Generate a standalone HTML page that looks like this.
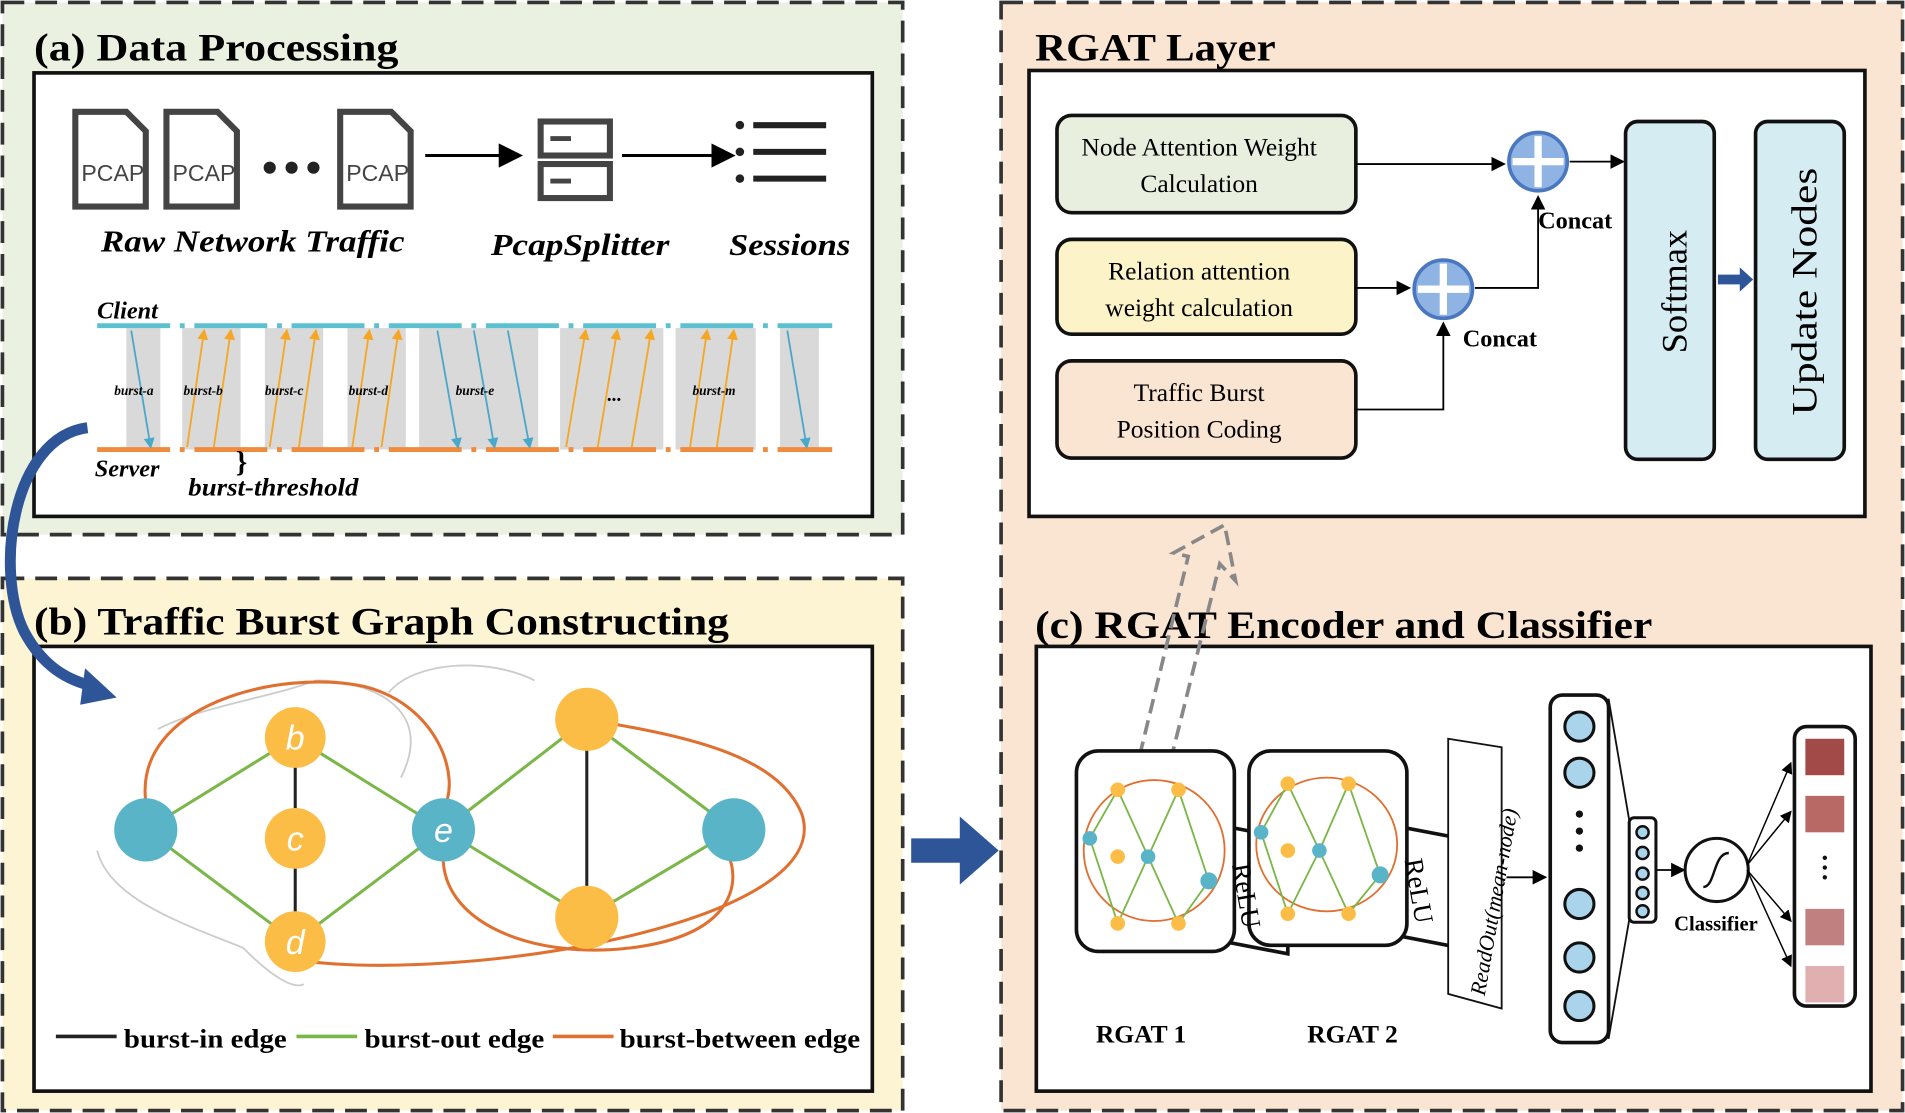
<!DOCTYPE html>
<html><head><meta charset="utf-8"><style>html,body{margin:0;padding:0;background:#fff}svg{display:block}</style></head><body>
<svg width="1905" height="1113" viewBox="0 0 1568 916" preserveAspectRatio="none" xmlns="http://www.w3.org/2000/svg" font-family="Liberation Serif, serif">
<defs>
<marker id="ah" markerWidth="8" markerHeight="8" refX="7" refY="4" orient="auto"><path d="M0,0 L8,4 L0,8z" fill="#000"/></marker>
<marker id="ab" markerWidth="6" markerHeight="6" refX="5" refY="3" orient="auto"><path d="M0,0 L6,3 L0,6z" fill="#4aa8c8"/></marker>
<marker id="ao" markerWidth="6" markerHeight="6" refX="5" refY="3" orient="auto"><path d="M0,0 L6,3 L0,6z" fill="#f5a623"/></marker>
</defs>
<rect x="2" y="2" width="741" height="438" fill="#ebf1e0" stroke="#333" stroke-width="3" stroke-dasharray="18,9"/>
<rect x="2" y="476" width="741" height="438" fill="#fdf4d3" stroke="#333" stroke-width="3" stroke-dasharray="18,9"/>
<rect x="824" y="2" width="742" height="912" fill="#fae5d3" stroke="#333" stroke-width="3" stroke-dasharray="18,9"/>
<text x="28" y="50" font-size="32" font-weight="bold" textLength="300" lengthAdjust="spacingAndGlyphs">(a) Data Processing</text>
<text x="28" y="522" font-size="32" font-weight="bold" textLength="572" lengthAdjust="spacingAndGlyphs">(b) Traffic Burst Graph Constructing</text>
<text x="852" y="50" font-size="32" font-weight="bold" textLength="198" lengthAdjust="spacingAndGlyphs">RGAT Layer</text>
<text x="852" y="525" font-size="32" font-weight="bold" textLength="508" lengthAdjust="spacingAndGlyphs">(c) RGAT Encoder and Classifier</text>
<rect x="28" y="60" width="690" height="365" fill="#fff" stroke="#111" stroke-width="3"/>
<rect x="28" y="532" width="690" height="366" fill="#fff" stroke="#111" stroke-width="3"/>
<rect x="847" y="58" width="688" height="367" fill="#fff" stroke="#111" stroke-width="3"/>
<rect x="853" y="532" width="687" height="366" fill="#fff" stroke="#111" stroke-width="3"/>
<g font-family="Liberation Sans, sans-serif" font-size="19" fill="#444">
<g transform="translate(62,92)"><path d="M0,0 H42 L58,16 V78 H0z" fill="#fff" stroke="#444" stroke-width="5"/><text x="5" y="57">PCAP</text></g>
<g transform="translate(137,92)"><path d="M0,0 H42 L58,16 V78 H0z" fill="#fff" stroke="#444" stroke-width="5"/><text x="5" y="57">PCAP</text></g>
<g transform="translate(280,92)"><path d="M0,0 H42 L58,16 V78 H0z" fill="#fff" stroke="#444" stroke-width="5"/><text x="5" y="57">PCAP</text></g>
</g>
<circle cx="222" cy="138" r="5" fill="#222"/><circle cx="240" cy="138" r="5" fill="#222"/><circle cx="258" cy="138" r="5" fill="#222"/>
<line x1="350" y1="128" x2="428" y2="128" stroke="#000" stroke-width="2.5" marker-end="url(#ah)"/>
<rect x="445" y="100" width="57" height="28" fill="#fff" stroke="#444" stroke-width="5"/><rect x="445" y="135" width="57" height="28" fill="#fff" stroke="#444" stroke-width="5"/>
<line x1="453" y1="114" x2="470" y2="114" stroke="#444" stroke-width="4"/><line x1="453" y1="149" x2="470" y2="149" stroke="#444" stroke-width="4"/>
<line x1="512" y1="128" x2="603" y2="128" stroke="#000" stroke-width="2.5" marker-end="url(#ah)"/>
<g fill="#222"><circle cx="609" cy="103" r="3.5"/><circle cx="609" cy="125" r="3.5"/><circle cx="609" cy="147" r="3.5"/></g>
<g stroke="#222" stroke-width="5"><line x1="620" y1="103" x2="680" y2="103"/><line x1="620" y1="125" x2="680" y2="125"/><line x1="620" y1="147" x2="680" y2="147"/></g>
<g font-size="25" font-style="italic" font-weight="bold"><text x="83" y="207" textLength="250" lengthAdjust="spacingAndGlyphs">Raw Network Traffic</text><text x="404" y="210" textLength="147" lengthAdjust="spacingAndGlyphs">PcapSplitter</text><text x="600" y="210" textLength="100" lengthAdjust="spacingAndGlyphs">Sessions</text></g>
<g fill="#d9d9d9">
<rect x="104" y="270" width="28" height="100"/><rect x="150" y="270" width="48" height="100"/><rect x="218" y="270" width="48" height="100"/><rect x="286" y="270" width="48" height="100"/><rect x="345" y="270" width="98" height="100"/><rect x="461" y="270" width="85" height="100"/><rect x="556" y="270" width="66" height="100"/><rect x="642" y="270" width="32" height="100"/>
</g>
<line x1="80" y1="268" x2="685" y2="268" stroke="#5bc0d0" stroke-width="4" stroke-dasharray="60,8,4,8"/>
<line x1="80" y1="370" x2="685" y2="370" stroke="#f08a3c" stroke-width="4" stroke-dasharray="60,8,4,8"/>
<g stroke="#4aa8c8" stroke-width="1.5" marker-end="url(#ab)"><line x1="108" y1="272" x2="124" y2="368"/><line x1="360" y1="272" x2="377" y2="368"/><line x1="390" y1="272" x2="407" y2="368"/><line x1="418" y1="272" x2="436" y2="368"/><line x1="648" y1="272" x2="664" y2="368"/></g>
<g stroke="#f5a623" stroke-width="1.5" marker-end="url(#ao)"><line x1="154" y1="368" x2="168" y2="272"/><line x1="176" y1="368" x2="190" y2="272"/><line x1="222" y1="368" x2="236" y2="272"/><line x1="246" y1="368" x2="260" y2="272"/><line x1="290" y1="368" x2="304" y2="272"/><line x1="314" y1="368" x2="328" y2="272"/><line x1="466" y1="368" x2="482" y2="272"/><line x1="492" y1="368" x2="508" y2="272"/><line x1="520" y1="368" x2="536" y2="272"/><line x1="568" y1="368" x2="582" y2="272"/><line x1="590" y1="368" x2="604" y2="272"/></g>
<g font-size="11" font-style="italic" font-weight="bold"><text x="94" y="325">burst-a</text><text x="151" y="325">burst-b</text><text x="218" y="325">burst-c</text><text x="287" y="325">burst-d</text><text x="375" y="325">burst-e</text><text x="500" y="330" font-size="16">...</text><text x="570" y="325">burst-m</text></g>
<text x="80" y="262" font-size="20" font-style="italic" font-weight="bold">Client</text>
<text x="78" y="392" font-size="20" font-style="italic" font-weight="bold">Server</text>
<text x="194" y="388" font-size="24" font-weight="bold">}</text>
<text x="155" y="408" font-size="21" font-style="italic" font-weight="bold" textLength="140" lengthAdjust="spacingAndGlyphs">burst-threshold</text>
<path d="M72,352 C10,360 -5,470 20,520 C35,548 55,560 78,565" fill="none" stroke="#2e5597" stroke-width="9"/>
<path d="M70,550 L96,574 L66,580z" fill="#2e5597"/>
<path d="M80,700 C90,740 150,760 200,780 C220,800 240,815 250,810" fill="none" stroke="#ccc" stroke-width="1.5"/>
<path d="M130,600 C170,580 220,575 260,560 C300,560 360,580 330,640" fill="none" stroke="#ccc" stroke-width="1.5"/>
<path d="M320,570 C340,545 400,540 440,560" fill="none" stroke="#ccc" stroke-width="1.5"/>
<g stroke="#e07030" stroke-width="2.5" fill="none">
<path d="M120,660 C110,580 230,550 300,565 C360,580 380,640 365,665"/>
<path d="M483,592 C560,605 640,620 660,670 C690,760 380,810 243,790"/>
<path d="M365,700 C360,760 440,790 520,780 C600,770 610,730 600,705"/>
</g>
<g stroke="#7ab648" stroke-width="2.5"><line x1="120" y1="683" x2="243" y2="607"/><line x1="120" y1="683" x2="243" y2="775"/><line x1="243" y1="607" x2="365" y2="683"/><line x1="243" y1="775" x2="365" y2="683"/><line x1="365" y1="683" x2="483" y2="592"/><line x1="365" y1="683" x2="483" y2="755"/><line x1="483" y1="592" x2="604" y2="683"/><line x1="483" y1="755" x2="604" y2="683"/></g>
<g stroke="#222" stroke-width="2.5"><line x1="243" y1="607" x2="243" y2="775"/><line x1="483" y1="592" x2="483" y2="755"/></g>
<g fill="#5ab4c8"><circle cx="120" cy="683" r="26"/><circle cx="365" cy="683" r="26"/><circle cx="604" cy="683" r="26"/></g>
<g fill="#fbbd45"><circle cx="243" cy="607" r="25"/><circle cx="243" cy="690" r="25"/><circle cx="243" cy="775" r="25"/><circle cx="483" cy="592" r="26"/><circle cx="483" cy="755" r="26"/></g>
<g font-family="Liberation Sans, sans-serif" font-size="28" font-style="italic" fill="#fff" text-anchor="middle"><text x="243" y="617">b</text><text x="243" y="700">c</text><text x="243" y="785">d</text><text x="365" y="693">e</text></g>
<line x1="46" y1="853" x2="96" y2="853" stroke="#222" stroke-width="3"/>
<line x1="244" y1="853" x2="294" y2="853" stroke="#7ab648" stroke-width="3"/>
<line x1="455" y1="853" x2="505" y2="853" stroke="#e07030" stroke-width="3"/>
<g font-size="22" font-weight="bold"><text x="102" y="862" textLength="134" lengthAdjust="spacingAndGlyphs">burst-in edge</text><text x="300" y="862" textLength="148" lengthAdjust="spacingAndGlyphs">burst-out edge</text><text x="510" y="862" textLength="198" lengthAdjust="spacingAndGlyphs">burst-between edge</text></g>
<path d="M750,690 H790 V672 L822,700 L790,728 V710 H750z" fill="#2e5597"/>
<g font-size="21" text-anchor="middle">
<rect x="870" y="95" width="246" height="80" rx="12" fill="#e8efdf" stroke="#111" stroke-width="3"/><text x="987" y="128">Node Attention Weight</text><text x="987" y="158">Calculation</text>
<rect x="870" y="197" width="246" height="78" rx="12" fill="#fdf3c8" stroke="#111" stroke-width="3"/><text x="987" y="230">Relation attention</text><text x="987" y="260">weight calculation</text>
<rect x="870" y="297" width="246" height="80" rx="12" fill="#fae5d3" stroke="#111" stroke-width="3"/><text x="987" y="330">Traffic Burst</text><text x="987" y="360">Position Coding</text>
</g>
<g stroke="#000" stroke-width="1.5" fill="none">
<line x1="1116" y1="135" x2="1238" y2="135" marker-end="url(#ah)"/>
<line x1="1116" y1="237" x2="1160" y2="237" marker-end="url(#ah)"/>
<polyline points="1116,337 1188,337 1188,266" marker-end="url(#ah)"/>
<polyline points="1214,237 1266,237 1266,162" marker-end="url(#ah)"/>
<line x1="1292" y1="133" x2="1336" y2="133" marker-end="url(#ah)"/>
</g>
<g><circle cx="1266" cy="133" r="24" fill="#8fb3e3" stroke="#4a78c0" stroke-width="3"/><path d="M1266,112 V154 M1245,133 H1287" stroke="#fff" stroke-width="6"/>
<circle cx="1188" cy="238" r="24" fill="#8fb3e3" stroke="#4a78c0" stroke-width="3"/><path d="M1188,217 V259 M1167,238 H1209" stroke="#fff" stroke-width="6"/></g>
<g font-size="20" font-weight="bold"><text x="1266" y="188">Concat</text><text x="1204" y="285">Concat</text></g>
<rect x="1338" y="100" width="73" height="278" rx="10" fill="#d6ecf3" stroke="#111" stroke-width="3"/>
<rect x="1445" y="100" width="73" height="278" rx="10" fill="#d6ecf3" stroke="#111" stroke-width="3"/>
<text transform="translate(1388,240) rotate(-90)" font-size="30" text-anchor="middle">Softmax</text>
<text transform="translate(1495,240) rotate(-90)" font-size="30" text-anchor="middle" textLength="204" lengthAdjust="spacingAndGlyphs">Update Nodes</text>
<path d="M1414,226 H1432 V220 L1443,230 L1432,240 V234 H1414z" fill="#2e5597"/>
<path d="M938,622 L978,458 L966,455 L1008,432 L1017,478 L1004,464 L963,628z" fill="none" stroke="#888" stroke-width="3" stroke-dasharray="12,6"/>
<g stroke="#111" stroke-width="3">
<path d="M1008,680 L1060,690 L1060,785 L1008,775z" fill="#fff"/>
<path d="M1150,680 L1202,690 L1202,780 L1150,770z" fill="#fff"/>
<rect x="886" y="618" width="130" height="165" rx="18" fill="#fff"/>
<rect x="1028" y="618" width="130" height="160" rx="18" fill="#fff"/>
<path d="M1192,608 L1236,615 L1236,830 L1192,818z" fill="#fff" stroke-width="1.5"/>
</g>
<g stroke-width="1.5" fill="none">
<ellipse cx="950" cy="700" rx="58" ry="58" stroke="#e07030"/><ellipse cx="1092" cy="695" rx="58" ry="55" stroke="#e07030"/>
<path d="M897,690 L920,650 L945,705 L970,650 L995,725 L970,760 L945,705 L920,760z" stroke="#7ab648"/>
<path d="M1038,685 L1060,645 L1086,700 L1110,645 L1136,720 L1110,752 L1086,700 L1060,752z" stroke="#7ab648"/>
</g>
<g fill="#5ab4c8"><circle cx="897" cy="690" r="6"/><circle cx="945" cy="705" r="6"/><circle cx="995" cy="725" r="7"/><circle cx="1038" cy="685" r="6"/><circle cx="1086" cy="700" r="6"/><circle cx="1136" cy="720" r="7"/></g>
<g fill="#fbbd45"><circle cx="920" cy="650" r="6"/><circle cx="920" cy="705" r="6"/><circle cx="920" cy="760" r="6"/><circle cx="970" cy="650" r="6"/><circle cx="970" cy="760" r="6"/><circle cx="1060" cy="645" r="6"/><circle cx="1060" cy="700" r="6"/><circle cx="1060" cy="752" r="6"/><circle cx="1110" cy="645" r="6"/><circle cx="1110" cy="752" r="6"/></g>
<text transform="translate(1014,712) rotate(80)" font-size="22">ReLU</text>
<text transform="translate(1156,708) rotate(80)" font-size="22">ReLU</text>
<text transform="translate(1222,820) rotate(-80)" font-size="18" font-style="italic">ReadOut(mean-node)</text>
<line x1="1240" y1="722" x2="1272" y2="722" stroke="#000" stroke-width="1.5" marker-end="url(#ah)"/>
<rect x="1276" y="572" width="48" height="286" rx="10" fill="#fff" stroke="#111" stroke-width="3"/>
<g fill="#a9d4ec" stroke="#111" stroke-width="2.5"><circle cx="1300" cy="598" r="12"/><circle cx="1300" cy="636" r="12"/><circle cx="1300" cy="744" r="12"/><circle cx="1300" cy="788" r="12"/><circle cx="1300" cy="828" r="12"/></g>
<g fill="#111"><circle cx="1300" cy="670" r="3"/><circle cx="1300" cy="684" r="3"/><circle cx="1300" cy="698" r="3"/></g>
<path d="M1324,575 L1341,675 M1324,855 L1341,757" stroke="#111" stroke-width="1.5"/>
<rect x="1341" y="673" width="22" height="86" rx="4" fill="#fff" stroke="#111" stroke-width="2.5"/>
<g fill="#a9d4ec" stroke="#111" stroke-width="2"><circle cx="1352" cy="685" r="5"/><circle cx="1352" cy="702" r="5"/><circle cx="1352" cy="719" r="5"/><circle cx="1352" cy="735" r="5"/><circle cx="1352" cy="750" r="5"/></g>
<line x1="1364" y1="716" x2="1386" y2="716" stroke="#000" stroke-width="1.5" marker-end="url(#ah)"/>
<circle cx="1413" cy="716" r="26" fill="#fff" stroke="#111" stroke-width="2.5"/>
<path d="M1402,730 C1412,730 1410,702 1423,702" stroke="#111" stroke-width="2" fill="none"/>
<text x="1378" y="766" font-size="17" font-weight="bold">Classifier</text>
<g stroke="#000" stroke-width="1.2" marker-end="url(#ah)"><line x1="1438" y1="712" x2="1474" y2="628"/><line x1="1438" y1="712" x2="1474" y2="668"/><line x1="1438" y1="716" x2="1474" y2="758"/><line x1="1438" y1="716" x2="1474" y2="795"/></g>
<rect x="1477" y="598" width="50" height="230" rx="10" fill="#fff" stroke="#111" stroke-width="3"/>
<rect x="1486" y="608" width="32" height="30" fill="#a24a48"/><rect x="1486" y="655" width="32" height="30" fill="#b86865"/><rect x="1486" y="748" width="32" height="30" fill="#c08080"/><rect x="1486" y="795" width="32" height="30" fill="#e0b0b0"/>
<g fill="#111"><circle cx="1502" cy="706" r="1.8"/><circle cx="1502" cy="714" r="1.8"/><circle cx="1502" cy="722" r="1.8"/></g>
<g font-size="21" font-weight="bold"><text x="902" y="858">RGAT 1</text><text x="1076" y="858">RGAT 2</text></g>
</svg>
</body></html>
